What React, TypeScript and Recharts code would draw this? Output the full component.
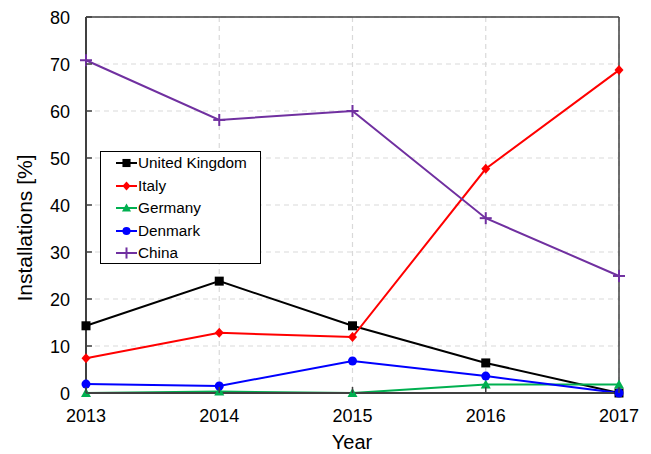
import { LineChart, Line, XAxis, YAxis, CartesianGrid, ReferenceLine } from 'recharts';

const years = [2013, 2014, 2015, 2016, 2017];
const yTicks = [0, 10, 20, 30, 40, 50, 60, 70, 80];

const unitedKingdom = [14.3, 23.8, 14.3, 6.4, 0];
const italy = [7.4, 12.8, 11.9, 47.7, 68.7];
const germany = [0, 0.3, 0, 1.8, 1.8];
const denmark = [1.9, 1.5, 6.8, 3.6, 0];
const china = [70.8, 58.1, 60.0, 37.2, 24.9];

const series = [
  { key: 'uk', name: 'United Kingdom', color: '#000000', shape: 'square', values: unitedKingdom },
  { key: 'it', name: 'Italy', color: '#ff0000', shape: 'diamond', values: italy },
  { key: 'de', name: 'Germany', color: '#00b050', shape: 'triangle', values: germany },
  { key: 'dk', name: 'Denmark', color: '#0000ff', shape: 'circle', values: denmark },
  { key: 'cn', name: 'China', color: '#7030a0', shape: 'plus', values: china },
];

const data = years.map((year, i) => {
  const row: any = { year };
  series.forEach(s => { row[s.key] = s.values[i]; });
  return row;
});

const font = 'Arial, "Liberation Sans", sans-serif';

const Marker = ({ cx, cy, shape, color, size = 1 }: any) => {
  if (cx == null || cy == null) return null;
  const r = 4.5 * size;
  switch (shape) {
    case 'square':
      return <rect x={cx - r} y={cy - r} width={2 * r} height={2 * r} fill={color} />;
    case 'diamond':
      return <polygon points={`${cx},${cy - r - 0.5} ${cx + r},${cy} ${cx},${cy + r + 0.5} ${cx - r},${cy}`} fill={color} />;
    case 'triangle':
      return <polygon points={`${cx},${cy - r - 0.5} ${cx + r + 0.5},${cy + r - 0.5} ${cx - r - 0.5},${cy + r - 0.5}`} fill={color} />;
    case 'circle':
      return <circle cx={cx} cy={cy} r={r} fill={color} />;
    case 'plus':
      return (
        <g stroke={color} strokeWidth={2}>
          <line x1={cx - r - 1.5} y1={cy} x2={cx + r + 1.5} y2={cy} />
          <line x1={cx} y1={cy - r - 1.5} x2={cx} y2={cy + r + 1.5} />
        </g>
      );
    default:
      return null;
  }
};

const YTick = ({ x, y, payload }: any) => (
  <g>
    <line x1={x} y1={y} x2={x + 6} y2={y} stroke="#404040" strokeWidth={1.5} />
    <text x={x - 16} y={y} dy={6.5} textAnchor="end" fontSize={18} fontFamily={font} fill="#000">
      {payload.value}
    </text>
  </g>
);

const XTick = ({ x, y, payload }: any) => (
  <g>
    <line x1={x} y1={y} x2={x} y2={y - 6} stroke="#404040" strokeWidth={1.5} />
    <text x={x} y={y + 29} textAnchor="middle" fontSize={18} fontFamily={font} fill="#000">
      {payload.value}
    </text>
  </g>
);

const YLabel = () => (
  <text
    x={24}
    y={228}
    transform="rotate(-90, 24, 228)"
    textAnchor="middle"
    dominantBaseline="central"
    fontSize={21}
    fontFamily={font}
    fill="#000"
  >
    Installations [%]
  </text>
);

const XLabel = () => (
  <text x={352} y={449} textAnchor="middle" fontSize={20} fontFamily={font} fill="#000">
    Year
  </text>
);

const LegendBox = () => (
  <div
    style={{
      position: 'absolute',
      left: 100,
      top: 151,
      border: '1.5px solid #000',
      backgroundColor: '#fff',
      width: 161,
      height: 113,
      padding: '0 0 0 15px',
      boxSizing: 'border-box',
      fontFamily: font,
      fontSize: 15.3,
    }}
  >
    {series.map(s => (
      <div key={s.key} style={{ display: 'flex', alignItems: 'center', height: 22.5 }}>
        <svg width={21} height={14} style={{ marginRight: 1 }}>
          <line x1={0} y1={7} x2={21} y2={7} stroke={s.color} strokeWidth={2} />
          <Marker cx={10.5} cy={7} shape={s.shape} color={s.color} size={0.9} />
        </svg>
        <span>{s.name}</span>
      </div>
    ))}
  </div>
);

const App = () => (
  <div style={{ position: 'absolute', left: 0, top: 0, width: 651, height: 454, background: '#fff' }}>
    <LineChart width={651} height={454} data={data} margin={{ top: 17, right: 32, bottom: 0, left: 0 }}>
      <CartesianGrid stroke="#d9d9d9" strokeDasharray="5 4" strokeWidth={1.2} />
      <XAxis
        dataKey="year"
        type="number"
        domain={[2013, 2017]}
        ticks={years}
        tick={<XTick />}
        tickLine={false}
        tickSize={0}
        tickMargin={0}
        axisLine={{ stroke: '#404040', strokeWidth: 2 }}
        height={61}
        label={{ content: () => <XLabel /> }}
      />
      <YAxis
        type="number"
        domain={[0, 80]}
        ticks={yTicks}
        tick={<YTick />}
        tickLine={false}
        tickSize={0}
        tickMargin={0}
        width={86}
        axisLine={{ stroke: '#404040', strokeWidth: 2 }}
        label={{ content: () => <YLabel /> }}
      />
      <ReferenceLine y={80} stroke="#404040" strokeWidth={1.5} />
      <ReferenceLine x={2017} stroke="#404040" strokeWidth={1.5} />
      {series.map(s => (
        <Line
          key={s.key}
          dataKey={s.key}
          name={s.name}
          stroke={s.color}
          strokeWidth={2}
          type="linear"
          dot={(p: any) => <Marker key={`${s.key}-${p.index}`} cx={p.cx} cy={p.cy} shape={s.shape} color={s.color} />}
          activeDot={false}
          isAnimationActive={false}
        />
      ))}
    </LineChart>
    <LegendBox />
  </div>
);

export default App;
